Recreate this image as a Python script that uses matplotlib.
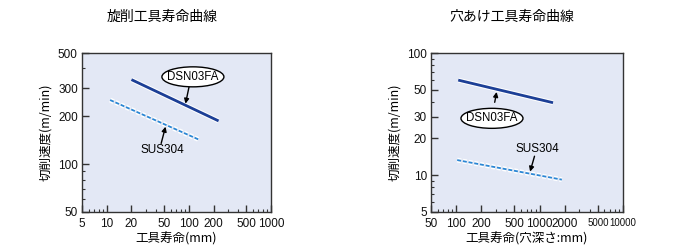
import matplotlib
matplotlib.use("Agg")
import matplotlib.pyplot as plt
import matplotlib.patheffects as pe
from matplotlib.patches import Ellipse
from matplotlib.ticker import LogLocator, NullFormatter, FixedLocator, FixedFormatter

plt.rcParams['font.family'] = ['Liberation Sans', 'Noto Sans CJK JP', 'DejaVu Sans']

# ---- data ----
titles = ["旋削工具寿命曲線", "穴あけ工具寿命曲線"]
xlabels = ["工具寿命(mm)", "工具寿命(穴深さ:mm)"]
ylabel = "切削速度(m/min)"

turn_x_ticks = [5, 10, 20, 50, 100, 200, 500, 1000]
turn_y_ticks = [50, 100, 200, 300, 500]
turn_dsn_x = [20, 230]
turn_dsn_y = [340, 187]
turn_sus_x = [11, 135]
turn_sus_y = [253, 142]

drill_x_ticks = [50, 100, 200, 500, 1000, 2000, 5000, 10000]
drill_y_ticks = [5, 10, 20, 30, 50, 100]
drill_dsn_x = [106, 1450]
drill_dsn_y = [60, 39.2]
drill_sus_x = [103, 1850]
drill_sus_y = [13.3, 9.2]

BG = '#E3E8F5'
NAVY = '#1C3F96'
LBLUE = '#2A86D4'
CJK = ['Noto Sans CJK JP', 'DejaVu Sans']

fig = plt.figure(figsize=(7, 2.5), dpi=100)

def make_axes(rect, xlim, ylim, xticks, yticks):
    ax = fig.add_axes(rect)
    ax.set_facecolor(BG)
    ax.set_xscale('log')
    ax.set_yscale('log')
    ax.set_xlim(*xlim)
    ax.set_ylim(*ylim)
    ax.xaxis.set_major_locator(FixedLocator(xticks))
    ax.xaxis.set_major_formatter(FixedFormatter([str(t) for t in xticks]))
    ax.yaxis.set_major_locator(FixedLocator(yticks))
    ax.yaxis.set_major_formatter(FixedFormatter([str(t) for t in yticks]))
    ax.xaxis.set_minor_locator(LogLocator(base=10, subs=range(2, 10)))
    ax.yaxis.set_minor_locator(LogLocator(base=10, subs=range(2, 10)))
    ax.xaxis.set_minor_formatter(NullFormatter())
    ax.yaxis.set_minor_formatter(NullFormatter())
    ax.tick_params(which='major', direction='in', length=5, width=1, labelsize=8.5,
                   color='#333333', labelcolor='#111111', pad=3)
    ax.tick_params(which='minor', direction='in', length=2.5, width=0.8, color='#333333')
    ax.tick_params(axis='x', pad=4)
    for s in ax.spines.values():
        s.set_color('#333333')
        s.set_linewidth(1.0)
    return ax

def label_ellipse(ax, x, y, text, w_px, h_px):
    bbox = ax.get_position()
    w_ax = w_px / (bbox.width * 700)
    h_ax = h_px / (bbox.height * 250)
    cx, cy = ax.transAxes.inverted().transform(ax.transData.transform((x, y)))
    ax.add_patch(Ellipse((cx, cy), w_ax, h_ax, transform=ax.transAxes,
                         fc='white', ec='black', lw=1, zorder=4))
    ax.text(cx, cy, text, transform=ax.transAxes, ha='center', va='center',
            fontsize=8.3, zorder=5)

def arrow(ax, head, tail):
    ax.annotate('', xy=head, xytext=tail,
                arrowprops=dict(arrowstyle='-|>', color='black', lw=1, mutation_scale=7,
                                shrinkA=0, shrinkB=0))

halo = [pe.Stroke(linewidth=3.5, foreground='white'), pe.Normal()]

# ---- left: turning ----
ax1 = make_axes([82/700, 1-212/250, 189/700, 159/250], (5, 1000), (50, 500),
                turn_x_ticks, turn_y_ticks)
ax1.plot(turn_dsn_x, turn_dsn_y, color=NAVY, lw=2, path_effects=halo, solid_capstyle='butt')
ax1.plot(turn_sus_x, turn_sus_y, color=LBLUE, lw=1.3, ls=(0, (2.2, 1.0)), path_effects=halo)
arrow(ax1, (91, 240), (101, 310))
label_ellipse(ax1, 112, 354, 'DSN03FA', 62, 20)
arrow(ax1, (52, 172), (46, 135))
ax1.text(48, 123, 'SUS304', ha='center', va='center', fontsize=8.5)
ax1.set_ylabel(ylabel, fontsize=9, family=CJK, labelpad=4)
ax1.set_xlabel(xlabels[0], fontsize=9, family=CJK, labelpad=2)
fig.text(162/700, 1-17/250, titles[0], ha='center', va='center', fontsize=10, family=CJK)

# ---- right: drilling ----
ax2 = make_axes([431/700, 1-212/250, 192/700, 159/250], (50, 10000), (5, 100),
                drill_x_ticks, drill_y_ticks)
for lab in ax2.get_xticklabels()[-2:]:
    lab.set_fontsize(7)
ax2.plot(drill_dsn_x, drill_dsn_y, color=NAVY, lw=2, path_effects=halo, solid_capstyle='butt')
ax2.plot(drill_sus_x, drill_sus_y, color=LBLUE, lw=1.3, ls=(0, (2.2, 1.0)), path_effects=halo)
arrow(ax2, (306, 48), (290, 39.5))
label_ellipse(ax2, 269, 29.2, 'DSN03FA', 62, 20)
arrow(ax2, (770, 10.7), (870, 14.3))
ax2.text(940, 16.4, 'SUS304', ha='center', va='center', fontsize=8.5)
ax2.set_ylabel(ylabel, fontsize=9, family=CJK, labelpad=4)
ax2.set_xlabel(xlabels[1], fontsize=9, family=CJK, labelpad=2)
fig.text(512/700, 1-17/250, titles[1], ha='center', va='center', fontsize=10, family=CJK)

fig.savefig('out.png', dpi=100, facecolor='white')
